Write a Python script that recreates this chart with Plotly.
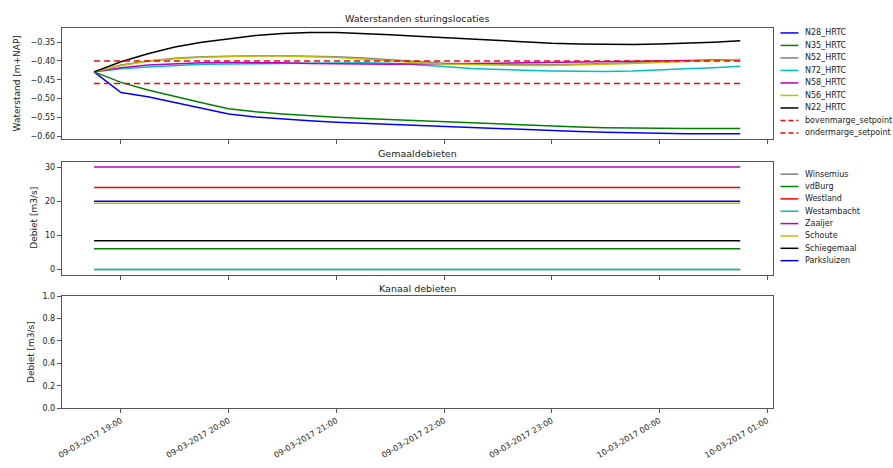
import pandas as pd
import plotly.graph_objects as go

# ---------------- data ----------------
times = pd.date_range("2017-03-09 18:45", periods=25, freq="15min")

N28_HRTC = [-0.429, -0.484, -0.495, -0.510, -0.527, -0.541, -0.549, -0.555, -0.559, -0.563,
            -0.566, -0.568, -0.571, -0.574, -0.577, -0.580, -0.583, -0.586, -0.588, -0.590,
            -0.592, -0.593, -0.594, -0.594, -0.594]
N35_HRTC = [-0.429, -0.457, -0.477, -0.495, -0.511, -0.527, -0.535, -0.541, -0.546, -0.550,
            -0.553, -0.556, -0.559, -0.562, -0.565, -0.568, -0.571, -0.573, -0.576, -0.578,
            -0.579, -0.580, -0.580, -0.580, -0.580]
N52_HRTC = [-0.429, -0.411, -0.400, -0.393, -0.389, -0.387, -0.386, -0.386, -0.387, -0.389,
            -0.392, -0.397, -0.402, -0.406, -0.408, -0.409, -0.410, -0.410, -0.409, -0.407,
            -0.405, -0.402, -0.400, -0.398, -0.396]
N72_HRTC = [-0.429, -0.421, -0.416, -0.412, -0.409, -0.408, -0.407, -0.406, -0.405, -0.405,
            -0.405, -0.406, -0.410, -0.415, -0.420, -0.423, -0.425, -0.427, -0.428, -0.428,
            -0.427, -0.425, -0.421, -0.418, -0.414]
N58_HRTC = [-0.429, -0.418, -0.411, -0.407, -0.405, -0.404, -0.404, -0.405, -0.407, -0.408,
            -0.409, -0.409, -0.408, -0.408, -0.407, -0.406, -0.405, -0.404, -0.403, -0.402,
            -0.401, -0.400, -0.399, -0.398, -0.397]
N56_HRTC = [-0.429, -0.412, -0.401, -0.394, -0.390, -0.388, -0.387, -0.387, -0.389, -0.391,
            -0.395, -0.400, -0.405, -0.408, -0.410, -0.411, -0.412, -0.412, -0.411, -0.409,
            -0.407, -0.404, -0.401, -0.398, -0.396]
N22_HRTC = [-0.429, -0.402, -0.381, -0.363, -0.350, -0.340, -0.332, -0.327, -0.324, -0.324,
            -0.326, -0.330, -0.334, -0.338, -0.342, -0.346, -0.350, -0.353, -0.355, -0.356,
            -0.356, -0.355, -0.353, -0.350, -0.346]
bovenmarge_setpoint = -0.40
ondermarge_setpoint = -0.46

level_names = ["N28_HRTC", "N35_HRTC", "N52_HRTC", "N72_HRTC", "N58_HRTC", "N56_HRTC", "N22_HRTC"]
level_values = [N28_HRTC, N35_HRTC, N52_HRTC, N72_HRTC, N58_HRTC, N56_HRTC, N22_HRTC]
level_colors = ["#0000ff", "#008000", "#808080", "#00bfbf", "#bf00bf", "#bfbf00", "#000000"]

pump_names = ["Winsemius", "vdBurg", "Westland", "Westambacht", "Zaaijer", "Schoute", "Schiegemaal", "Parksluizen"]
pump_flow = [0.0, 6.1, 24.0, 0.0, 30.0, 19.4, 8.4, 20.0]
pump_colors = ["#808080", "#008000", "#ff0000", "#00bfbf", "#bf00bf", "#bfbf00", "#000000", "#0000ff"]

titles = ["Waterstanden sturingslocaties", "Gemaaldebieten", "Kanaal debieten"]
ylabels = ["Waterstand [m+NAP]", "Debiet [m3/s]", "Debiet [m3/s]"]

# ---------------- figure ----------------
W, H = 893, 468
def px(x):
    return x / W
def py(y):
    return 1 - y / H

FONT = "DejaVu Sans"
TXT = "#222222"
fig = go.Figure()

for name, vals, col in zip(level_names, level_values, level_colors):
    fig.add_trace(go.Scatter(x=times, y=vals, mode="lines", name=name,
                             line=dict(color=col, width=1.5), xaxis="x", yaxis="y", showlegend=False))
for name, val in [("bovenmarge_setpoint", bovenmarge_setpoint), ("ondermarge_setpoint", ondermarge_setpoint)]:
    fig.add_trace(go.Scatter(x=times, y=[val] * len(times), mode="lines", name=name,
                             line=dict(color="#ff0000", width=1.5, dash="6px,4px"),
                             xaxis="x", yaxis="y", showlegend=False))

for name, val, col in zip(pump_names, pump_flow, pump_colors):
    fig.add_trace(go.Scatter(x=times, y=[val] * len(times), mode="lines", name=name,
                             line=dict(color=col, width=1.5), xaxis="x2", yaxis="y2", showlegend=False))

# empty "Kanaal debieten" panel
fig.add_trace(go.Scatter(x=[None], y=[None], mode="lines", xaxis="x3", yaxis="y3",
                         showlegend=False, hoverinfo="skip"))

xrange_ = ["2017-03-09 18:27", "2017-03-10 01:03"]
xl, xr = px(58), px(772)
doms = [(py(138), py(24)), (py(276), py(161)), (py(412), py(298))]

axcommon = dict(showline=True, linecolor="#555555", linewidth=1, mirror=True, ticks="outside",
                ticklen=4, tickcolor="#555555", showgrid=False, zeroline=False,
                tickfont=dict(family=FONT, size=8, color=TXT))

tickvals_x = pd.date_range("2017-03-09 19:00", periods=7, freq="1h")
for i in range(3):
    sfx = "" if i == 0 else str(i + 1)
    xa = dict(axcommon, domain=[xl, xr], range=xrange_, type="date", anchor="y" + sfx,
              tickvals=list(tickvals_x), tickformat="%d-%m-%Y %H:%M", showticklabels=(i == 2),
              tickangle=-30)
    fig.update_layout(**{"xaxis" + sfx: xa})

fig.update_layout(
    yaxis=dict(axcommon, domain=list(doms[0]), anchor="x", range=[-0.6086, -0.311],
               tickvals=[-0.60, -0.55, -0.50, -0.45, -0.40, -0.35], tickformat=".2f"),
    yaxis2=dict(axcommon, domain=list(doms[1]), anchor="x2", range=[-1.5, 31.5],
                tickvals=[0, 10, 20, 30]),
    yaxis3=dict(axcommon, domain=list(doms[2]), anchor="x3", range=[0, 1],
                tickvals=[0, 0.2, 0.4, 0.6, 0.8, 1.0], tickformat=".1f"),
)

annotations = []
title_y = [15, 152, 290]
ylab_x = [14, 30, 27]
ylab_y = [81, 218, 355]
for t, ty in zip(titles, title_y):
    annotations.append(dict(text=t, x=(xl + xr) / 2, y=py(ty), xref="paper", yref="paper",
                            showarrow=False, xanchor="center", yanchor="middle",
                            font=dict(family=FONT, size=9.5, color=TXT)))
for lab, lx, ly in zip(ylabels, ylab_x, ylab_y):
    annotations.append(dict(text=lab, x=px(lx), y=py(ly), xref="paper", yref="paper",
                            showarrow=False, textangle=-90, xanchor="center", yanchor="middle",
                            font=dict(family=FONT, size=9, color=TXT)))

shapes = []
def add_legend(names, colors, dashes, y0, dy):
    for k, (n, c, d) in enumerate(zip(names, colors, dashes)):
        yy = y0 + k * dy
        shapes.append(dict(type="line", xref="paper", yref="paper", x0=px(780), x1=px(798),
                           y0=py(yy), y1=py(yy), line=dict(color=c, width=1.5, dash=d)))
        annotations.append(dict(text=n, x=px(803), y=py(yy), xref="paper", yref="paper",
                                showarrow=False, xanchor="left", yanchor="middle",
                                font=dict(family=FONT, size=8, color=TXT)))

add_legend(level_names + ["bovenmarge_setpoint", "ondermarge_setpoint"],
           level_colors + ["#ff0000", "#ff0000"],
           ["solid"] * 7 + ["5px,3px", "5px,3px"], 29.5, 12.75)
add_legend(pump_names, pump_colors, ["solid"] * 8, 173.5, 12.6)

fig.update_layout(width=W, height=H, margin=dict(l=0, r=0, t=0, b=0),
                  paper_bgcolor="white", plot_bgcolor="white",
                  annotations=annotations, shapes=shapes, showlegend=False,
                  font=dict(family=FONT, color=TXT))

fig.write_html("out.html")
